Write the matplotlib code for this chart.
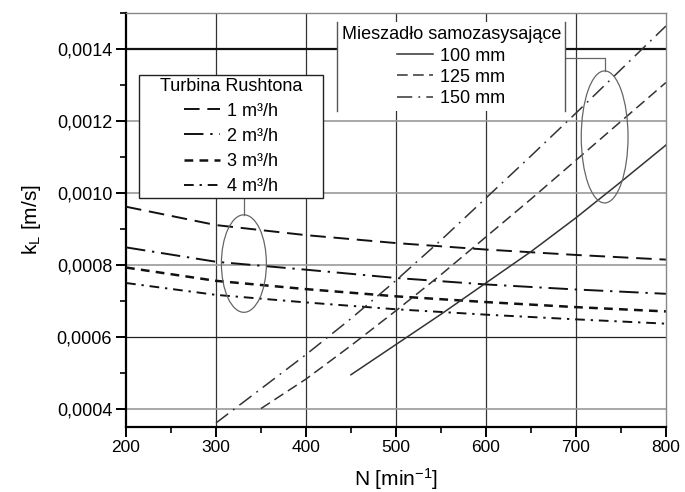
import matplotlib
matplotlib.use("Agg")
import matplotlib.pyplot as plt
from matplotlib.lines import Line2D
from matplotlib.patches import Ellipse, Rectangle
from matplotlib.ticker import FuncFormatter, MultipleLocator

plt.rcParams["font.family"] = ["Liberation Sans", "DejaVu Sans"]
plt.rcParams["mathtext.fontset"] = "custom"
plt.rcParams["mathtext.rm"] = "Liberation Sans"
plt.rcParams["mathtext.it"] = "Liberation Sans:italic"

# Rushton turbine, kL vs N for four gas flow rates
n_turbine = [200, 300, 400, 500, 600, 700, 800]
kl_1m3 = [0.000961, 0.000910, 0.000882, 0.000860, 0.000842, 0.000827, 0.000814]
kl_2m3 = [0.000848, 0.000808, 0.000786, 0.000763, 0.000745, 0.000731, 0.000719]
kl_3m3 = [0.000792, 0.000755, 0.000732, 0.000712, 0.000696, 0.000682, 0.000670]
kl_4m3 = [0.000749, 0.000716, 0.000695, 0.000676, 0.000661, 0.000648, 0.000636]

# self-aspirating impeller, three diameters
n_100 = [450, 500, 550, 600, 650, 700, 750, 800]
kl_100 = [0.000494, 0.000578, 0.000662, 0.000749, 0.000836, 0.000930, 0.001030, 0.001132]
n_125 = [350, 400, 450, 500, 550, 600, 650, 700, 750, 800]
kl_125 = [0.000400, 0.000482, 0.000575, 0.000672, 0.000772, 0.000877, 0.000982, 0.001090, 0.001198, 0.001306]
n_150 = [300, 350, 400, 450, 500, 550, 600, 650, 700, 750, 800]
kl_150 = [0.000360, 0.000455, 0.000550, 0.000650, 0.000756, 0.000868, 0.000985, 0.001102, 0.001221, 0.001342, 0.001463]

turbine_labels = ["1 m³/h", "2 m³/h", "3 m³/h", "4 m³/h"]
mixer_labels = ["100 mm", "125 mm", "150 mm"]

x_ticks = [200, 300, 400, 500, 600, 700, 800]
y_ticks = [0.0004, 0.0006, 0.0008, 0.0010, 0.0012, 0.0014]

fig = plt.figure(figsize=(6.85, 4.92), dpi=100)
ax = fig.add_axes([0.184, 0.133, 0.788, 0.841])

# grid drawn by hand, the original mixes grey and black rules
for x in x_ticks[1:-1]:
    ax.axvline(x, color="#333333", lw=0.9, zorder=1)
h_styles = {0.0004: ("#999999", 1.2), 0.0006: ("#222222", 0.9), 0.0008: ("#999999", 1.2),
            0.0010: ("#999999", 1.2), 0.0012: ("#999999", 1.2), 0.0014: ("#111111", 1.6)}
for y in y_ticks:
    c, w = h_styles[y]
    ax.axhline(y, color=c, lw=w, zorder=1)

dark = "#111111"
t1, = ax.plot(n_turbine, kl_1m3, color=dark, lw=1.4, dashes=(8, 4), zorder=3)
t2, = ax.plot(n_turbine, kl_2m3, color=dark, lw=1.4, dashes=(10, 3.5, 1.2, 3.5), zorder=3)
t3, = ax.plot(n_turbine, kl_3m3, color=dark, lw=1.8, dashes=(3.5, 2.5), zorder=3)
t4, = ax.plot(n_turbine, kl_4m3, color=dark, lw=1.4, dashes=(5, 3, 1.2, 3), zorder=3)

mix = "#333333"
m1, = ax.plot(n_100, kl_100, color=mix, lw=1.1, zorder=3)
m2, = ax.plot(n_125, kl_125, color=mix, lw=1.1, dashes=(7, 3.5), zorder=3)
m3, = ax.plot(n_150, kl_150, color=mix, lw=1.1, dashes=(10, 4, 1.2, 4), zorder=3)

ax.set_xlim(200, 800)
ax.set_ylim(0.00035, 0.0015)
ax.xaxis.set_major_locator(MultipleLocator(100))
ax.xaxis.set_minor_locator(MultipleLocator(50))
ax.set_yticks(y_ticks)
ax.yaxis.set_minor_locator(MultipleLocator(0.0001))
ax.yaxis.set_major_formatter(FuncFormatter(lambda v, p: f"{v:.4f}".replace(".", ",")))
ax.tick_params(which="major", direction="out", length=7, width=1.4, pad=3)
ax.tick_params(axis="y", labelsize=13)
ax.tick_params(axis="x", labelsize=12.5)
ax.tick_params(which="minor", direction="out", length=4, width=1.2)
for side in ("left", "bottom"):
    ax.spines[side].set_linewidth(1.6)
for side in ("top", "right"):
    ax.spines[side].set_color("#888888")
    ax.spines[side].set_linewidth(1.0)

ax.set_xlabel(r"N [min$^{-1}$]", fontsize=15, labelpad=8)
ax.set_ylabel(r"k$_\mathrm{L}$ [m/s]", fontsize=15, labelpad=10)

# turbine legend: own frame, content centred inside it
box_x0, box_x1, box_y0, box_y1 = 0.024, 0.365, 0.553, 0.850
ax.add_patch(Rectangle((box_x0, box_y0), box_x1 - box_x0, box_y1 - box_y0,
                       transform=ax.transAxes, fc="white", ec="#222222", lw=1.0, zorder=5))
leg1 = ax.legend([t1, t2, t3, t4], turbine_labels, title="Turbina Rushtona",
                 loc="center", bbox_to_anchor=((box_x0 + box_x1) / 2, (box_y0 + box_y1) / 2),
                 borderaxespad=0, fontsize=13, title_fontsize=13, handlelength=2.0,
                 handletextpad=0.4, labelspacing=0.45, borderpad=0.1, alignment="center",
                 frameon=False)
leg1.set_zorder(6)
ax.add_artist(leg1)

leg2 = ax.legend([m1, m2, m3], mixer_labels, title="Mieszadło samozasysające",
                 loc="upper center", bbox_to_anchor=(0.6025, 0.978), borderaxespad=0,
                 fontsize=13, title_fontsize=13, handlelength=2.0, handletextpad=0.4,
                 labelspacing=0.23, borderpad=0.25, alignment="center",
                 fancybox=False, framealpha=1, edgecolor="none")
leg2.set_zorder(5)

# ellipses marking the two groups, with leader lines to the legends
gray = "#666666"
ax.add_patch(Ellipse((331, 0.000803), 50, 0.000271, fill=False, ec=gray, lw=0.9, zorder=4))
ax.add_patch(Ellipse((732, 0.001155), 52, 0.000367, fill=False, ec=gray, lw=0.9, zorder=4))
ax.plot([331, 331], [0.000938, 0.000986], color=gray, lw=0.9, zorder=4)

# only the side edges of the mixer legend frame are visible in the original
fig.canvas.draw()
bb = leg2.get_window_extent().transformed(ax.transAxes.inverted())
for xe in (bb.x0, bb.x1):
    ax.add_line(Line2D([xe, xe], [bb.y0, bb.y1], transform=ax.transAxes,
                       color="#555555", lw=1.0, zorder=6))
bb_data = leg2.get_window_extent().transformed(ax.transData.inverted())
ax.plot([bb_data.x1, 732, 732], [0.001375, 0.001375, 0.001338], color=gray, lw=0.9, zorder=4)

fig.savefig("out.png", dpi=100)
